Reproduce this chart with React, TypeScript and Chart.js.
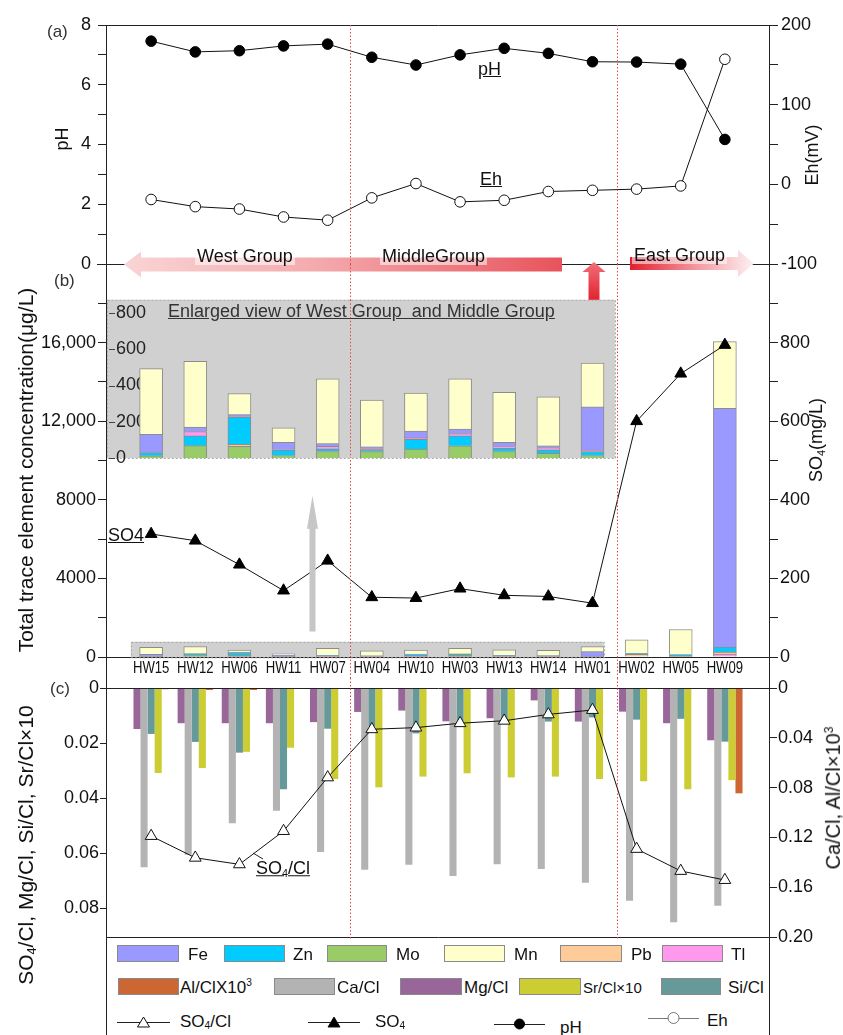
import React, { useEffect, useRef } from 'react';
import { Chart, registerables } from 'chart.js';
Chart.register(...registerables);

// ---------------- data ----------------
const samples = ['HW15', 'HW12', 'HW06', 'HW11', 'HW07', 'HW04', 'HW10', 'HW03', 'HW13', 'HW14', 'HW01', 'HW02', 'HW05', 'HW09'];
const pH = [7.46, 7.1, 7.14, 7.3, 7.36, 6.92, 6.66, 7.0, 7.22, 7.05, 6.77, 6.76, 6.69, 4.17];
const eh = [-19, -28, -31, -41, -45, -17, 1, -22, -20, -9, -7.5, -6, -2, 157];
const so4 = [313, 296, 235, 169, 245, 152, 150, 174, 157, 154, 137, 600, 721, 794];
// trace elements (µg/L)
const mo = [12, 68, 65, 14, 36, 35, 49, 67, 36, 26, 14, 5, 8, 10];
const pb = [0, 0, 11, 0, 2, 2, 0, 0, 0, 0, 0, 130, 20, 100];
const zn = [18, 54, 150, 30, 12, 9, 54, 56, 18, 19, 22, 45, 85, 250];
const tl = [2, 24, 3, 3, 15, 6, 8, 12, 9, 13, 8, 0, 0, 150];
const fe = [98, 25, 11, 40, 15, 10, 38, 24, 24, 9, 238, 10, 12, 12150];
const mn = [363, 362, 116, 79, 357, 258, 209, 278, 276, 271, 242, 680, 1275, 3390];
// ratios
const mgCl = [0.0149, 0.0128, 0.0128, 0.0128, 0.0124, 0.0087, 0.0082, 0.0121, 0.011, 0.0045, 0.0122, 0.0086, 0.0128, 0.019];
const caCl = [0.144, 0.134, 0.1087, 0.0985, 0.1317, 0.146, 0.142, 0.151, 0.1416, 0.1454, 0.1564, 0.1708, 0.1882, 0.1748];
const siCl = [0.0167, 0.0196, 0.0235, 0.0368, 0.0148, 0.014, 0.0165, 0.0125, 0.0125, 0.0122, 0.0107, 0.0115, 0.0112, 0.0195];
const srCl10 = [0.0309, 0.0291, 0.0232, 0.0217, 0.0331, 0.0361, 0.0322, 0.031, 0.0325, 0.0322, 0.0331, 0.0339, 0.0368, 0.0335];
const alCl1000 = [0.001, 0.0016, 0.0016, 0.0005, 0.0008, 0.0008, 0.0006, 0.0006, 0, 0, 0.0008, 0, 0, 0.0846];
const so4Cl = [0.0538, 0.0617, 0.0641, 0.052, 0.0325, 0.015, 0.0144, 0.0128, 0.0119, 0.0096, 0.008, 0.0585, 0.0665, 0.0698];
const groupBreaks = [4.5, 10.56];
const insetCount = 11;
const insetTicks = [0, 200, 400, 600, 800];

// ---------------- style ----------------
const FONT = "'Liberation Sans', Arial, sans-serif";
const C_FE = '#9999ff', C_ZN = '#00ccff', C_MO = '#99cc66', C_MN = '#ffffcc', C_PB = '#ffcc99', C_TL = '#ff99ee';
const C_AL = '#cc6633', C_CA = '#b3b3b3', C_MG = '#996699', C_SR = '#cccc33', C_SI = '#669999';
const RED_DOT = '#e0474f';
const W = 843;

const pts = (arr: number[]) => arr.map((v, i) => ({ x: i, y: v }));

const dividers = (y0: (c: any) => number, y1: (c: any) => number, onlyInside = false) => ({
  id: 'dividers',
  afterDraw(chart: any) {
    const ctx = chart.ctx, xs = chart.scales.x, ca = chart.chartArea;
    ctx.save();
    ctx.strokeStyle = RED_DOT;
    ctx.lineWidth = 1;
    ctx.setLineDash([1.5, 2]);
    groupBreaks.forEach((b) => {
      const px = Math.round(xs.getPixelForValue(b)) + 0.5;
      if (onlyInside && (px < ca.left || px > ca.right)) return;
      ctx.beginPath();
      ctx.moveTo(px, y0(chart));
      ctx.lineTo(px, y1(chart));
      ctx.stroke();
    });
    ctx.restore();
  },
});

const frameLines = (top: boolean, bottom: boolean, extLeft = 0) => ({
  id: 'frame',
  afterDraw(chart: any) {
    const ctx = chart.ctx, ca = chart.chartArea;
    ctx.save();
    ctx.strokeStyle = '#222';
    ctx.lineWidth = 1;
    ctx.beginPath();
    if (top) { ctx.moveTo(ca.left, Math.round(ca.top) + 0.5); ctx.lineTo(ca.right + 1, Math.round(ca.top) + 0.5); }
    if (bottom) { ctx.moveTo(ca.left - extLeft, Math.round(ca.bottom) + 0.5); ctx.lineTo(ca.right + 1, Math.round(ca.bottom) + 0.5); }
    ctx.stroke();
    ctx.restore();
  },
});

const arrowsPlugin = {
  id: 'arrows',
  afterDraw(chart: any) {
    const ctx = chart.ctx;
    ctx.save();
    let g = ctx.createLinearGradient(124, 0, 562, 0);
    g.addColorStop(0, '#fad4d5');
    g.addColorStop(0.45, '#f3a9ac');
    g.addColorStop(1, '#e8535c');
    ctx.fillStyle = g;
    ctx.beginPath();
    ctx.moveTo(124, 264.5); ctx.lineTo(141, 251.5); ctx.lineTo(141, 257.5); ctx.lineTo(562, 257.5);
    ctx.lineTo(562, 271.5); ctx.lineTo(141, 271.5); ctx.lineTo(141, 277.5); ctx.closePath();
    ctx.fill();
    g = ctx.createLinearGradient(630, 0, 754, 0);
    g.addColorStop(0, '#e2202f');
    g.addColorStop(0.55, '#f29ca2');
    g.addColorStop(1, '#fdf2f2');
    ctx.fillStyle = g;
    ctx.beginPath();
    ctx.moveTo(630, 257); ctx.lineTo(738, 257); ctx.lineTo(738, 250); ctx.lineTo(754, 263.5);
    ctx.lineTo(738, 277); ctx.lineTo(738, 270); ctx.lineTo(630, 270); ctx.closePath();
    ctx.fill();
    g = ctx.createLinearGradient(0, 262, 0, 300);
    g.addColorStop(0, '#f0707a');
    g.addColorStop(1, '#e2222f');
    ctx.fillStyle = g;
    ctx.beginPath();
    ctx.moveTo(594, 262); ctx.lineTo(605.5, 272); ctx.lineTo(599.5, 272); ctx.lineTo(599.5, 300);
    ctx.lineTo(588.5, 300); ctx.lineTo(588.5, 272); ctx.lineTo(582.5, 272); ctx.closePath();
    ctx.fill();
    ctx.restore();
  },
};

// condensed sample labels under panel (b), placed with the x scale
const xLabelPlugin = {
  id: 'xlabels',
  afterDraw(chart: any) {
    const ctx = chart.ctx, xs = chart.scales.x, ca = chart.chartArea;
    ctx.save();
    ctx.font = `16px ${FONT}`;
    ctx.fillStyle = '#111';
    ctx.textAlign = 'center';
    ctx.textBaseline = 'middle';
    samples.forEach((s, i) => {
      ctx.save();
      ctx.translate(xs.getPixelForValue(i), ca.bottom + 12);
      ctx.scale(0.82, 1);
      ctx.fillText(s, 0, 0);
      ctx.restore();
    });
    ctx.restore();
  },
};

const smallBoxPlugin = {
  id: 'smallBox',
  beforeDatasetsDraw(chart: any) {
    const ctx = chart.ctx, xs = chart.scales.x, ys = chart.scales.yL;
    const x0 = xs.getPixelForValue(-0.46), x1 = xs.getPixelForValue(10.26);
    const y0 = ys.getPixelForValue(780), y1 = ys.getPixelForValue(0);
    ctx.save();
    ctx.fillStyle = '#d0d0d0';
    ctx.fillRect(x0, y0, x1 - x0, y1 - y0);
    ctx.strokeStyle = '#a8a8a8';
    ctx.setLineDash([2, 2]);
    ctx.strokeRect(Math.round(x0) + 0.5, Math.round(y0) + 0.5, x1 - x0, y1 - y0);
    ctx.restore();
  },
  afterDatasetsDraw(chart: any) {
    const ctx = chart.ctx, xs = chart.scales.x, ys = chart.scales.yL;
    const x = xs.getPixelForValue(3.656);
    const tip = ys.getPixelForValue(8200), base = ys.getPixelForValue(1300);
    ctx.save();
    ctx.fillStyle = '#c6c6c6';
    ctx.beginPath();
    ctx.moveTo(x, tip); ctx.lineTo(x + 5.5, tip + 33); ctx.lineTo(x + 3, tip + 33); ctx.lineTo(x + 3, base);
    ctx.lineTo(x - 3, base); ctx.lineTo(x - 3, tip + 33); ctx.lineTo(x - 5.5, tip + 33); ctx.closePath();
    ctx.fill();
    ctx.restore();
  },
};

const insetPlugin = {
  id: 'insetBg',
  beforeDraw(chart: any) {
    const ctx = chart.ctx, ca = chart.chartArea;
    ctx.save();
    ctx.fillStyle = '#d0d0d0';
    ctx.fillRect(ca.left, ca.top, ca.right - ca.left, ca.bottom - ca.top);
    ctx.strokeStyle = '#a8a8a8';
    ctx.setLineDash([2, 2]);
    ctx.strokeRect(ca.left + 0.5, ca.top + 0.5, ca.right - ca.left, ca.bottom - ca.top);
    ctx.restore();
  },
  afterDraw(chart: any) {
    const ctx = chart.ctx, ys = chart.scales.y;
    ctx.save();
    ctx.strokeStyle = '#444';
    ctx.lineWidth = 1;
    insetTicks.forEach((v) => {
      const y = Math.round(ys.getPixelForValue(v)) + 0.5;
      ctx.beginPath();
      ctx.moveTo(109, y);
      ctx.lineTo(115, y);
      ctx.stroke();
    });
    ctx.restore();
  },
};

const yAxis = (pos: 'left' | 'right', min: number, max: number, step: number, width: number, tl: number, pad: number, cb: (v: number) => string, extra: any = {}) => ({
  position: pos, min, max,
  ticks: { stepSize: step, includeBounds: false, font: { family: FONT, size: 18 }, color: '#111', padding: pad, callback: (v: any) => cb(Number(v)) },
  grid: { drawOnChartArea: false, drawTicks: true, tickLength: tl, tickColor: '#222', color: '#222' },
  border: { display: false },
  afterFit: (s: any) => { s.width = width; },
  ...extra,
});

const baseOpts = (padding: any) => ({
  responsive: false,
  maintainAspectRatio: false,
  animation: false,
  layout: { padding, autoPadding: false },
  plugins: { legend: { display: false }, tooltip: { enabled: false } },
});

const isMult = (v: number, s: number) => Math.abs(v / s - Math.round(v / s)) < 1e-6;

export default function App() {
  const aRef = useRef<HTMLCanvasElement>(null);
  const bRef = useRef<HTMLCanvasElement>(null);
  const iRef = useRef<HTMLCanvasElement>(null);
  const cRef = useRef<HTMLCanvasElement>(null);

  useEffect(() => {
    Chart.defaults.font.family = FONT;
    Chart.defaults.color = '#111';
    const charts: Chart[] = [];

    // ---------- (a) pH / Eh ----------
    charts.push(new Chart(aRef.current as HTMLCanvasElement, {
      type: 'line',
      data: {
        datasets: [
          { label: 'pH', data: pts(pH), yAxisID: 'yL', borderColor: '#111', borderWidth: 1, pointRadius: 5.3, pointBackgroundColor: '#000', pointBorderColor: '#000', pointBorderWidth: 1 },
          { label: 'Eh', data: pts(eh), yAxisID: 'yR', borderColor: '#111', borderWidth: 1, pointRadius: 5.3, pointBackgroundColor: '#fff', pointBorderColor: '#111', pointBorderWidth: 1 },
        ],
      } as any,
      options: {
        ...baseOpts({ top: 25, bottom: 46, left: 0, right: 0 }),
        scales: {
          x: { type: 'linear', min: -1, max: 14, display: false },
          yL: yAxis('left', 0, 8, 1, 107, 9, 7, (v) => (v % 2 === 0 ? String(v) : '')),
          yR: yAxis('right', -100, 200, 50, W - 769, 9, 3, (v) => (v % 100 === 0 ? String(v) : '')),
        },
      } as any,
      plugins: [frameLines(true, true, 10), arrowsPlugin, dividers((c) => c.chartArea.top, (c) => c.chartArea.bottom)],
    }));

    // ---------- (b) trace elements + SO4 ----------
    const mainStack: [string, number[], string][] = [
      ['Tl', tl, C_TL], ['Pb', pb, C_PB], ['Mo', mo, C_MO], ['Zn', zn, C_ZN], ['Fe', fe, C_FE], ['Mn', mn, C_MN],
    ];
    charts.push(new Chart(bRef.current as HTMLCanvasElement, {
      type: 'bar',
      data: {
        datasets: [
          { type: 'line', label: 'SO4', data: pts(so4), yAxisID: 'yR', order: 0, borderColor: '#111', borderWidth: 1, pointStyle: 'triangle', pointRadius: 6.8, pointBackgroundColor: '#000', pointBorderColor: '#000' },
          ...mainStack.map(([label, arr, color]) => ({
            label, data: pts(arr), yAxisID: 'yL', stack: 't', order: 1, backgroundColor: color, borderColor: '#8c8c8c', borderWidth: 1, barThickness: 23,
          })),
        ],
      } as any,
      options: {
        ...baseOpts({ top: 24, bottom: 0, left: 0, right: 0 }),
        scales: {
          x: {
            type: 'linear', min: -1, max: 14, offset: false, stacked: true,
            grid: { display: false, drawTicks: false, offset: false },
            border: { display: true, color: '#222' },
            ticks: { display: false, stepSize: 1 },
            afterFit: (s: any) => { s.height = 28; },
          },
          yL: yAxis('left', 0, 20000, 2000, 107, 9, 2, (v) => (v % 4000 === 0 && v < 20000 ? (v >= 10000 ? v.toLocaleString('en-US') : String(v)) : ''), { stacked: true }),
          yR: yAxis('right', 0, 1000, 100, W - 769, 9, 2, (v) => (v % 200 === 0 && v < 1000 ? String(v) : '')),
        },
      } as any,
      plugins: [smallBoxPlugin, xLabelPlugin, dividers((c) => c.chartArea.top, (c) => c.chartArea.bottom + 21)],
    }));

    // ---------- (b) enlarged view ----------
    const insetStack: [string, number[], string][] = [
      ['Mo', mo, C_MO], ['Pb', pb, C_PB], ['Zn', zn, C_ZN], ['Tl', tl, C_TL], ['Fe', fe, C_FE], ['Mn', mn, C_MN],
    ];
    charts.push(new Chart(iRef.current as HTMLCanvasElement, {
      type: 'bar',
      data: {
        datasets: insetStack.map(([label, arr, color]) => ({
          label, data: pts(arr.slice(0, insetCount)), stack: 'i', backgroundColor: color, borderColor: '#8c8c8c', borderWidth: 1, barThickness: 23,
        })),
      } as any,
      options: {
        ...baseOpts({ top: 17, bottom: 22, left: 107, right: W - 615 }),
        scales: {
          x: { type: 'linear', min: -1, max: 10.51, display: false, offset: false, stacked: true },
          y: {
            position: 'left', min: 0, max: 873, stacked: true,
            grid: { display: false, drawTicks: false },
            border: { display: false },
            ticks: { mirror: true, padding: 9, stepSize: 200, includeBounds: false, font: { family: FONT, size: 18 }, color: '#222', callback: (v: any) => String(v) },
            afterBuildTicks: (s: any) => { s.ticks = s.ticks.filter((t: any) => insetTicks.includes(Math.round(t.value))); },
            afterFit: (s: any) => { s.width = 0; },
          },
        },
      } as any,
      plugins: [insetPlugin, dividers((c) => c.chartArea.top, (c) => c.chartArea.bottom, true)],
    }));

    // ---------- (c) ratios ----------
    const ratioBars: [string, number[], string, string][] = [
      ['Mg/Cl', mgCl, C_MG, 'yL'], ['Ca/Cl', caCl, C_CA, 'yR'], ['Si/Cl', siCl, C_SI, 'yL'], ['Sr/Cl×10', srCl10, C_SR, 'yL'], ['Al/Cl×10³', alCl1000, C_AL, 'yR'],
    ];
    charts.push(new Chart(cRef.current as HTMLCanvasElement, {
      type: 'bar',
      data: {
        datasets: [
          { type: 'line', label: 'SO4/Cl', data: pts(so4Cl), yAxisID: 'yL', order: 0, borderColor: '#111', borderWidth: 1, pointStyle: 'triangle', pointRadius: 6.8, pointBackgroundColor: '#fff', pointBorderColor: '#111', pointBorderWidth: 1 },
          ...ratioBars.map(([label, arr, color, axis]) => ({
            label, data: pts(arr), yAxisID: axis, order: 1, backgroundColor: color, borderWidth: 0, categoryPercentage: 0.8, barPercentage: 1,
          })),
        ],
      } as any,
      options: {
        ...baseOpts({ top: 18, bottom: 23, left: 0, right: 0 }),
        scales: {
          x: { type: 'linear', min: -1, max: 14, display: false, offset: false },
          yL: yAxis('left', 0, 0.0905, 0.02, 107, 7, 1, (v) => (v === 0 ? '0' : v.toFixed(2)), {
            reverse: true,
            afterBuildTicks: (s: any) => { s.ticks = s.ticks.filter((t: any) => isMult(t.value, 0.02)); },
          }),
          yR: yAxis('right', 0, 0.2, 0.04, W - 769, 8, 1, (v) => (v === 0 ? '0' : v.toFixed(2)), { reverse: true }),
        },
      } as any,
      plugins: [frameLines(true, true), dividers(() => 8, (c) => c.chartArea.bottom + 3)],
    }));

    return () => charts.forEach((c) => c.destroy());
  }, []);

  const cv = (top: number, h: number) => ({ position: 'absolute' as const, left: 0, top, width: W, height: h });

  const txt = (x: number, cy: number, content: any, extra: any = {}) => (
    <div style={{ position: 'absolute', left: x, top: cy, transform: 'translateY(-50%)', whiteSpace: 'pre', lineHeight: 1, fontSize: 18, color: '#111', ...extra }}>{content}</div>
  );
  const vtxt = (cx: number, cy: number, content: any, extra: any = {}) => (
    <div style={{ position: 'absolute', left: cx, top: cy, transform: 'translate(-50%,-50%) rotate(-90deg)', whiteSpace: 'pre', lineHeight: 1, fontSize: 18, color: '#111', ...extra }}>{content}</div>
  );
  const sub = (s: string) => <sub style={{ fontSize: '0.6em', verticalAlign: '-0.25em' }}>{s}</sub>;
  const sup = (s: string) => <sup style={{ fontSize: '0.6em', verticalAlign: '0.6em' }}>{s}</sup>;

  const swatch = (x0: number, x1: number, top: number, color: string) => (
    <div style={{ position: 'absolute', left: x0, top, width: x1 - x0, height: 17, background: color, border: '1px solid #8a8a8a', boxSizing: 'border-box' }} />
  );
  const lineSym = (x0: number, x1: number, cy: number, kind: string) => {
    const w = x1 - x0, cx = w / 2;
    let mark: any = null;
    if (kind === 'triOpen' || kind === 'triFill') {
      mark = <polygon points={`${cx},2 ${cx + 6},12 ${cx - 6},12`} fill={kind === 'triFill' ? '#000' : '#fff'} stroke="#111" strokeWidth={1} />;
    } else {
      mark = <circle cx={cx} cy={7} r={kind === 'cirFill' ? 5 : 5.5} fill={kind === 'cirFill' ? '#000' : '#fff'} stroke={kind === 'cirFill' ? '#000' : '#777'} strokeWidth={1} />;
    }
    return (
      <svg style={{ position: 'absolute', left: x0, top: cy - 7 }} width={w} height={14}>
        <line x1={0} y1={7.5} x2={w} y2={7.5} stroke={kind === 'cirOpen' ? '#777' : '#222'} strokeWidth={1} />
        {mark}
      </svg>
    );
  };

  const band = { background: 'rgba(255,255,255,0.55)', padding: '0 2px' };

  return (
    <div style={{ position: 'absolute', left: 0, top: 0, width: W, height: 1035, background: '#fff', fontFamily: FONT, overflow: 'hidden' }}>
      <canvas ref={aRef} width={W} height={310} style={cv(0, 310)} />
      <canvas ref={bRef} width={W} height={445} style={cv(240, 445)} />
      <canvas ref={iRef} width={W} height={200} style={cv(280, 200)} />
      <canvas ref={cRef} width={W} height={290} style={cv(670, 290)} />

      {/* frame verticals */}
      <div style={{ position: 'absolute', left: 106, top: 25, width: 1, height: 1010, background: '#222' }} />
      <div style={{ position: 'absolute', left: 769, top: 25, width: 1, height: 1010, background: '#222' }} />

      {/* panel letters */}
      {txt(47, 31, '(a)', { fontSize: 17, color: '#333' })}
      {txt(54, 280, '(b)', { fontSize: 17, color: '#333' })}
      {txt(50, 688, '(c)', { fontSize: 17, color: '#333' })}

      {/* axis titles */}
      {vtxt(62, 139, 'pH')}
      {vtxt(812, 155, 'Eh(mV)')}
      {vtxt(25, 470, 'Total trace element concentration(μg/L)', { fontSize: 21 })}
      {vtxt(817, 440, <>SO{sub('4')}(mg/L)</>)}
      {vtxt(27, 845, <>SO{sub('4')}/Cl, Mg/Cl, Si/Cl, Sr/Cl×10</>, { fontSize: 21 })}
      {vtxt(833, 798, <>Ca/Cl, Al/Cl×10{sup('3')}</>, { fontSize: 20 })}

      {/* annotations */}
      {txt(478, 69, 'pH', { textDecoration: 'underline' })}
      {txt(480, 179, 'Eh', { textDecoration: 'underline' })}
      {txt(108, 535, 'SO4', { textDecoration: 'underline' })}
      {txt(256, 869, <>SO{sub('4')}/Cl</>, { textDecoration: 'underline' })}
      <svg style={{ position: 'absolute', left: 250, top: 850 }} width={16} height={12}>
        <line x1={3} y1={3} x2={13} y2={9} stroke="#222" strokeWidth={1} />
      </svg>
      {txt(168, 311, 'Enlarged view of West Group  and Middle Group', { color: '#333', textDecoration: 'underline' })}

      {/* group labels */}
      {txt(195, 256, 'West Group', band)}
      {txt(380, 256, 'MiddleGroup', band)}
      {txt(632, 255, 'East Group', band)}

      {/* legend */}
      {swatch(117, 179, 945, C_FE)}{txt(188, 954, 'Fe', { fontSize: 17 })}
      {swatch(224, 285, 945, C_ZN)}{txt(293, 954, 'Zn', { fontSize: 17 })}
      {swatch(327, 387, 945, C_MO)}{txt(396, 954, 'Mo', { fontSize: 17 })}
      {swatch(444, 505, 945, C_MN)}{txt(514, 954, 'Mn', { fontSize: 17 })}
      {swatch(560, 622, 945, C_PB)}{txt(631, 954, 'Pb', { fontSize: 17 })}
      {swatch(662, 723, 945, C_TL)}{txt(731, 954, 'Tl', { fontSize: 17 })}

      {swatch(118, 179, 978, C_AL)}{txt(180, 987, <>Al/ClX10{sup('3')}</>, { fontSize: 17 })}
      {swatch(274, 335, 978, C_CA)}{txt(337, 987, 'Ca/Cl', { fontSize: 17 })}
      {swatch(400, 462, 978, C_MG)}{txt(464, 987, 'Mg/Cl', { fontSize: 17 })}
      {swatch(519, 581, 978, C_SR)}{txt(583, 987, 'Sr/Cl×10', { fontSize: 15 })}
      {swatch(661, 721, 978, C_SI)}{txt(728, 987, 'Si/Cl', { fontSize: 17 })}

      {lineSym(117, 170, 1022, 'triOpen')}{txt(180, 1022, <>SO{sub('4')}/Cl</>, { fontSize: 17 })}
      {lineSym(308, 360, 1022, 'triFill')}{txt(375, 1022, <>SO{sub('4')}</>, { fontSize: 17 })}
      {lineSym(494, 545, 1024, 'cirFill')}{txt(560, 1027, 'pH', { fontSize: 17 })}
      {lineSym(648, 699, 1018, 'cirOpen')}{txt(707, 1020, 'Eh', { fontSize: 17 })}
    </div>
  );
}
